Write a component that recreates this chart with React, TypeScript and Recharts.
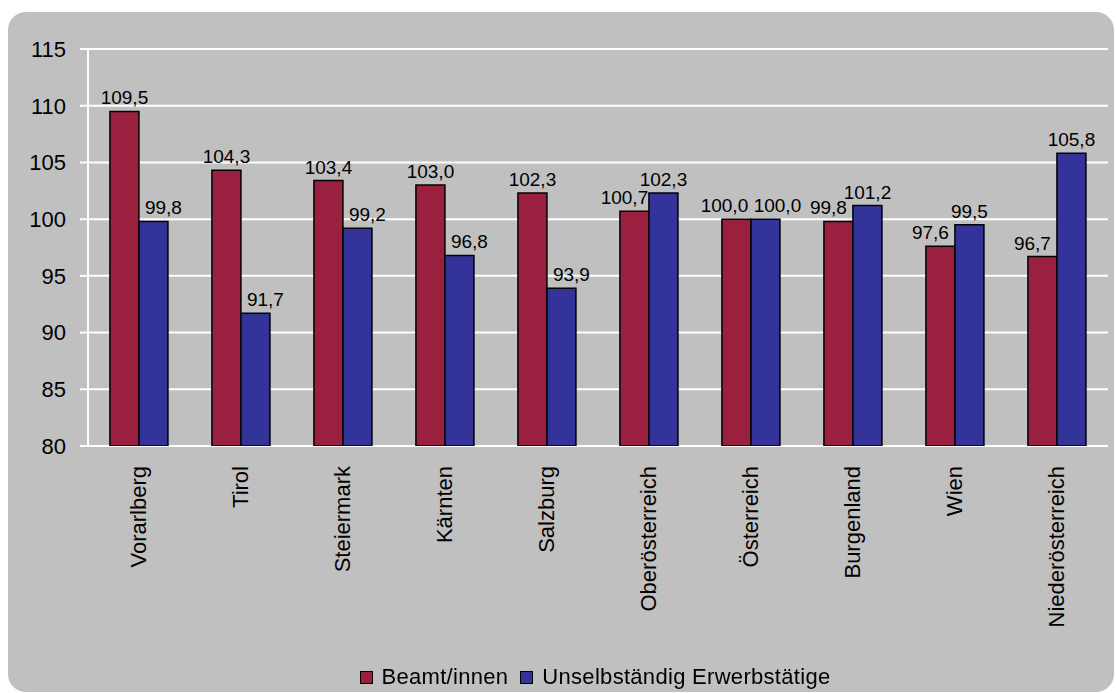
import React from 'react';
import { BarChart, Bar, XAxis, YAxis, CartesianGrid, Legend, LabelList } from 'recharts';

// Regions, sorted by the Beamt/innen index
const categories = [
  'Vorarlberg',
  'Tirol',
  'Steiermark',
  'Kärnten',
  'Salzburg',
  'Oberösterreich',
  'Österreich',
  'Burgenland',
  'Wien',
  'Niederösterreich',
];

const beamte = [109.5, 104.3, 103.4, 103.0, 102.3, 100.7, 100.0, 99.8, 97.6, 96.7];
const erwerbstaetige = [99.8, 91.7, 99.2, 96.8, 93.9, 102.3, 100.0, 101.2, 99.5, 105.8];

const yTicks = [80, 85, 90, 95, 100, 105, 110, 115];
const edgeTicks = [0, 1, 2, 3, 4, 5, 6, 7, 8, 9, 10];

const seriesNames = ['Beamt/innen', 'Unselbständig Erwerbstätige'];
const seriesColors = ['#9b2040', '#333399'];

const data = categories.map((name, i) => ({
  name,
  beamte: beamte[i],
  erwerbstaetige: erwerbstaetige[i],
}));

const FONT = '"Liberation Sans", Arial, sans-serif';

const fmt = (v: number) => v.toFixed(1).replace('.', ',');

// Value label; the label of the shorter bar of a pair steps aside
// from its taller neighbour so the two labels don't collide.
const makeValueLabel = (series: 0 | 1) => (props: any) => {
  const { x, y, width, index, value } = props;
  const own = series === 0 ? beamte[index] : erwerbstaetige[index];
  const other = series === 0 ? erwerbstaetige[index] : beamte[index];
  const dir = series === 0 ? -1 : 1;
  let shift = 0;
  if (own === other) shift = 12 * dir;
  else if (own < other) shift = 10 * dir;
  return (
    <text
      x={x + width / 2 + shift}
      y={y - 7}
      textAnchor="middle"
      fontSize={19}
      fontFamily={FONT}
      fill="#000"
    >
      {fmt(Number(value))}
    </text>
  );
};

const RotatedTick = (props: any) => {
  const { x, y, payload } = props;
  return (
    <text
      x={x}
      y={y + 20}
      transform={`rotate(-90, ${x}, ${y + 20})`}
      textAnchor="end"
      dy="0.32em"
      fontSize={22}
      fontFamily={FONT}
      fill="#000"
    >
      {payload.value}
    </text>
  );
};

const LegendContent = () => (
  <div
    style={{
      display: 'flex',
      justifyContent: 'center',
      alignItems: 'center',
      height: 26,
      paddingLeft: 68,
      fontFamily: FONT,
      fontSize: 22,
      letterSpacing: 0.3,
      color: '#000',
      whiteSpace: 'nowrap',
    }}
  >
    {seriesNames.map((n, i) => (
      <span key={n} style={{ display: 'flex', alignItems: 'center', marginRight: i === 0 ? 12 : 0 }}>
        <span
          style={{
            display: 'inline-block',
            width: 11,
            height: 11,
            background: seriesColors[i],
            border: '1px solid #000',
            marginRight: 9,
          }}
        />
        {n}
      </span>
    ))}
  </div>
);

export default function App() {
  return (
    <div
      style={{
        position: 'fixed',
        left: 8,
        top: 12,
        width: 1106,
        height: 680,
        background: '#c0c0c0',
        borderRadius: 18,
        overflow: 'hidden',
      }}
    >
      <BarChart
        width={1106}
        height={680}
        data={data}
        margin={{ top: 37, right: 6, bottom: 2, left: 0 }}
        barCategoryGap="21.5%"
        barGap={0}
      >
        <CartesianGrid vertical={false} stroke="#ffffff" strokeWidth={2} />
        <XAxis
          xAxisId="edges"
          type="number"
          domain={[0, 10]}
          ticks={edgeTicks}
          tick={false}
          tickSize={8}
          tickLine={{ stroke: '#ffffff', strokeWidth: 2 }}
          axisLine={{ stroke: '#ffffff', strokeWidth: 2 }}
          height={0}
        />
        <XAxis
          xAxisId="cat"
          dataKey="name"
          axisLine={false}
          tickLine={false}
          tickSize={0}
          tickMargin={0}
          interval={0}
          tick={<RotatedTick />}
          height={218}
        />
        <YAxis
          domain={[80, 115]}
          ticks={yTicks}
          interval={0}
          width={80}
          tickSize={8}
          tickMargin={14}
          tickLine={{ stroke: '#ffffff', strokeWidth: 2 }}
          axisLine={{ stroke: '#ffffff', strokeWidth: 2 }}
          tick={{ fill: '#000', fontSize: 22, fontFamily: FONT }}
          allowDataOverflow
        />
        <YAxis
          yAxisId="frame"
          orientation="right"
          width={0}
          tick={false}
          tickLine={false}
          axisLine={{ stroke: '#ffffff', strokeWidth: 2 }}
        />
        <Legend verticalAlign="bottom" wrapperStyle={{ left: 0, width: 1106 }} content={<LegendContent />} />
        <Bar
          xAxisId="cat"
          dataKey="beamte"
          name={seriesNames[0]}
          fill={seriesColors[0]}
          stroke="#000"
          strokeWidth={1.5}
          isAnimationActive={false}
        >
          <LabelList dataKey="beamte" content={makeValueLabel(0)} />
        </Bar>
        <Bar
          xAxisId="cat"
          dataKey="erwerbstaetige"
          name={seriesNames[1]}
          fill={seriesColors[1]}
          stroke="#000"
          strokeWidth={1.5}
          isAnimationActive={false}
        >
          <LabelList dataKey="erwerbstaetige" content={makeValueLabel(1)} />
        </Bar>
      </BarChart>
    </div>
  );
}
